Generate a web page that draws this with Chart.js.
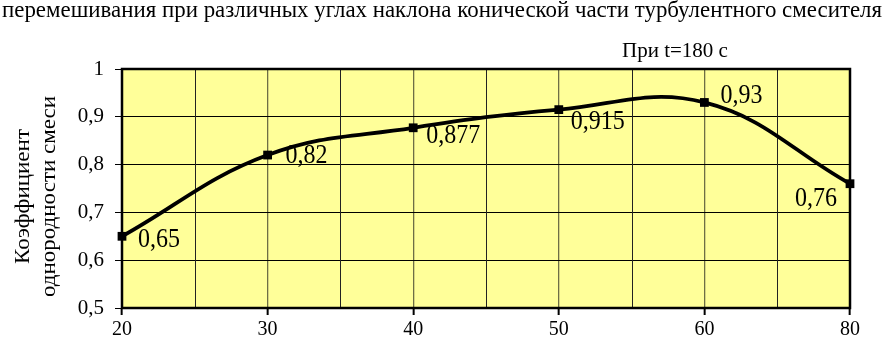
<!DOCTYPE html>
<html>
<head>
<meta charset="utf-8">
<script src="https://cdn.jsdelivr.net/npm/chart.js@4"></script>
<style>
  html, body { margin: 0; padding: 0; background: #fff; }
  #wrap { width: 886px; height: 339px; position: relative; }
</style>
</head>
<body>
<div id="wrap"><canvas id="chart"></canvas></div>
<script>
// angles of the conical part and mixing uniformity at t = 180 s
const angles = ['20', '30', '40', '50', '60', '80'];
const uniformity = [0.65, 0.82, 0.877, 0.915, 0.93, 0.76];
const yTicks = [0.5, 0.6, 0.7, 0.8, 0.9, 1];

const titleText = 'перемешивания при различных углах наклона конической части турбулентного смесителя';
const noteText = 'При t=180 с';
const yTitle = ['Коэффициент', 'однородности смеси'];

// label placement next to each point (dx, dy, align)
const labelOffsets = [[16, 4, 'left'], [18, 1, 'left'], [13, 8, 'left'], [12, 12, 'left'], [16, -6, 'left'], [-13, 15, 'right']];

const serif = '"Liberation Serif", "Times New Roman", serif';
const fmt = v => String(Number(v.toFixed(3))).replace('.', ',');

const plotDecor = {
    id: 'plotDecor',
    beforeDraw(chart) {
        const { ctx, chartArea: a } = chart;
        ctx.save();
        ctx.fillStyle = '#FFFF99';
        ctx.fillRect(a.left, a.top, a.right - a.left, a.bottom - a.top);
        ctx.restore();
    },
    beforeDatasetsDraw(chart) {
        const { ctx, chartArea: a } = chart;
        const x = chart.scales.x;
        ctx.save();
        // minor vertical lines halfway between categories
        ctx.strokeStyle = '#222';
        ctx.lineWidth = 1;
        for (let i = 0; i < angles.length - 1; i++) {
            const px = Math.round(x.getPixelForValue(i + 0.5)) + 0.5;
            ctx.beginPath();
            ctx.moveTo(px, a.top);
            ctx.lineTo(px, a.bottom);
            ctx.stroke();
        }
        // plot frame
        ctx.strokeStyle = '#000';
        ctx.lineWidth = 2.5;
        ctx.strokeRect(a.left, a.top, a.right - a.left, a.bottom - a.top);
        ctx.restore();
    },
    afterDatasetsDraw(chart) {
        const { ctx } = chart;
        const meta = chart.getDatasetMeta(0);
        ctx.save();
        ctx.fillStyle = '#000';
        ctx.font = '24px ' + serif;
        ctx.textBaseline = 'middle';
        meta.data.forEach((pt, i) => {
            const [dx, dy, align] = labelOffsets[i];
            ctx.save();
            ctx.translate(pt.x + dx, pt.y + dy);
            ctx.scale(1, 1.1);
            ctx.textAlign = align;
            ctx.fillText(fmt(uniformity[i]), 0, 0);
            ctx.restore();
        });
        ctx.restore();
    },
    afterDraw(chart) {
        const { ctx, chartArea: a } = chart;
        ctx.save();
        ctx.fillStyle = '#000';
        ctx.textBaseline = 'alphabetic';
        ctx.font = '23px ' + serif;
        ctx.textAlign = 'left';
        ctx.fillText(titleText, 2, 17, 880);
        ctx.font = '21px ' + serif;
        ctx.fillText(noteText, 622, 57);
        // vertical axis title, two lines
        ctx.font = '20px ' + serif;
        ctx.translate(0, (a.top + a.bottom) / 2 + 18 - 10);
        ctx.rotate(-Math.PI / 2);
        ctx.scale(1.15, 1);
        ctx.textAlign = 'center';
        ctx.textBaseline = 'middle';
        ctx.fillText(yTitle[0], 0, 24);
        ctx.fillText(yTitle[1], 0, 50);
        ctx.restore();
    }
};

new Chart(document.getElementById('chart'), {
    type: 'line',
    data: {
        labels: angles,
        datasets: [{
            data: uniformity,
            borderColor: '#000',
            borderWidth: 3.8,
            tension: 0.4,
            pointStyle: 'rect',
            pointRadius: 6.2,
            pointBackgroundColor: '#000',
            pointBorderWidth: 0,
            clip: false
        }]
    },
    options: {
        responsive: true,
        maintainAspectRatio: false,
        animation: false,
        layout: { padding: { left: 0, top: 69, right: 36, bottom: 0 } },
        plugins: {
            legend: { display: false },
            tooltip: { enabled: false },
            title: { display: false }
        },
        scales: {
            x: {
                type: 'category',
                offset: false,
                afterFit: s => { s.height = 31; },
                border: { display: false },
                grid: { color: '#6e6e45', lineWidth: 1.3, tickColor: '#000', tickLength: 7, tickWidth: 2 },
                ticks: { color: '#000', font: { family: serif, size: 20 }, padding: 3, maxRotation: 0 }
            },
            y: {
                min: 0.5,
                max: 1,
                afterFit: s => { s.width = 122; },
                afterBuildTicks: s => { s.ticks = yTicks.map(v => ({ value: v })); },
                border: { display: false },
                grid: { color: '#000', lineWidth: 1, tickColor: '#000', tickLength: 7, drawTicks: true },
                ticks: { color: '#000', font: { family: serif, size: 21 }, padding: 11, callback: v => fmt(v) }
            }
        }
    },
    plugins: [plotDecor]
});
</script>
</body>
</html>
